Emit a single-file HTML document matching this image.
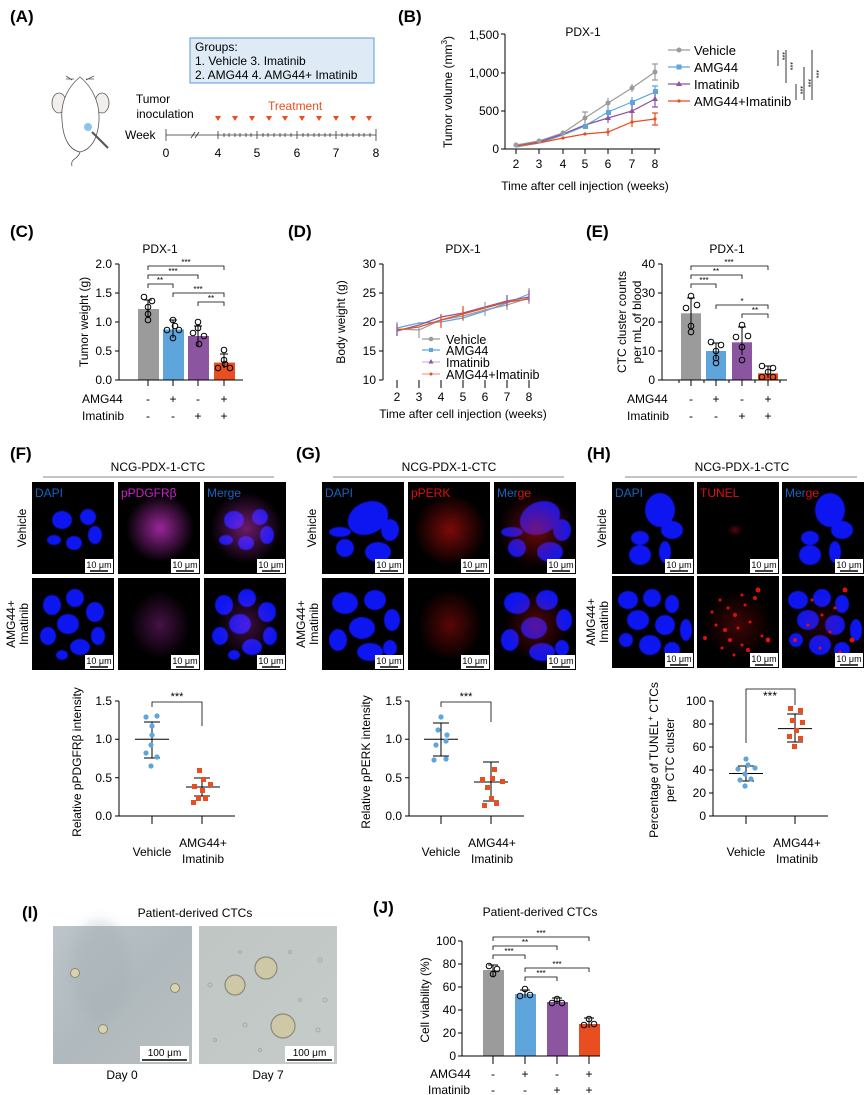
<!DOCTYPE html>
<html><head><meta charset="utf-8"><style>
html,body{margin:0;padding:0;background:#fff;}
svg{display:block;font-family:"Liberation Sans",Arial,sans-serif;}
</style></head><body>
<svg width="866" height="1095" viewBox="0 0 866 1095" xmlns="http://www.w3.org/2000/svg">
<defs>
<filter id="bl" x="-20%" y="-20%" width="140%" height="140%"><feGaussianBlur stdDeviation="0.6"/></filter>
<filter id="bl3" x="-30%" y="-30%" width="160%" height="160%"><feGaussianBlur stdDeviation="6"/></filter>
<radialGradient id="mag" cx="50%" cy="50%" r="50%"><stop offset="0" stop-color="#c030c0" stop-opacity="0.8"/><stop offset="1" stop-color="#c030c0" stop-opacity="0"/></radialGradient>
<radialGradient id="red" cx="50%" cy="50%" r="50%"><stop offset="0" stop-color="#d01010" stop-opacity="0.85"/><stop offset="1" stop-color="#d01010" stop-opacity="0"/></radialGradient>
<linearGradient id="bf0" x1="0" y1="0" x2="1" y2="1"><stop offset="0" stop-color="#bcc5c9"/><stop offset="0.5" stop-color="#b0b9bd"/><stop offset="1" stop-color="#b8bfc1"/></linearGradient>
<linearGradient id="bf7" x1="0" y1="0" x2="1" y2="1"><stop offset="0" stop-color="#bfc6c4"/><stop offset="1" stop-color="#c5cbc8"/></linearGradient>
</defs>
<g fill="#000" font-size="13">

<!-- ===== A ===== -->
<text x="10" y="22" font-size="17" font-weight="bold">(A)</text>
<rect x="190" y="38" width="184" height="45" fill="#deebf6" stroke="#5b9bd5" stroke-width="1"/>
<text x="195" y="51" font-size="12">Groups:</text>
<text x="195" y="65" font-size="12">1. Vehicle  3. Imatinib</text>
<text x="195" y="79" font-size="12">2. AMG44  4. AMG44+ Imatinib</text>
<g fill="none" stroke="#555" stroke-width="0.8">
<ellipse cx="59" cy="103" rx="7" ry="10" fill="#f3eeee"/>
<ellipse cx="102" cy="103" rx="7" ry="10" fill="#f3eeee"/>
<path d="M80 77 C70 85 60 100 62 120 C63 140 70 150 80 152 C90 150 98 140 99 120 C100 100 90 85 80 77 Z" fill="#fff"/>
<path d="M80 152 C78 160 70 158 72 166" />
<path d="M72 80 L66 76 M74 79 L66 79 M86 80 L94 76 M86 79 L94 79"/>
</g>
<circle cx="88" cy="127" r="4" fill="#8ec3ea"/>
<line x1="92" y1="132" x2="108" y2="148" stroke="#555" stroke-width="2"/>
<text x="153" y="103" font-size="12" text-anchor="middle">Tumor</text>
<text x="165" y="118" font-size="12" text-anchor="middle">inoculation</text>
<text x="268" y="110" font-size="12" fill="#e84e1f">Treatment</text>
<text x="125" y="139" font-size="12">Week</text>
<g stroke="#333" stroke-width="0.8">
<line x1="166" y1="135" x2="376" y2="135"/>
<line x1="166" y1="129" x2="166" y2="141"/><line x1="376" y1="129" x2="376" y2="141"/>
<line x1="191" y1="138" x2="195" y2="132"/><line x1="195" y1="138" x2="199" y2="132"/>
<line x1="218" y1="131" x2="218" y2="139"/><line x1="257" y1="131" x2="257" y2="139"/><line x1="297" y1="131" x2="297" y2="139"/><line x1="336" y1="131" x2="336" y2="139"/>
<path d="M224 133v4M229 133v4M235 133v4M240 133v4M246 133v4M251 133v4M263 133v4M268 133v4M274 133v4M280 133v4M285 133v4M291 133v4M303 133v4M308 133v4M314 133v4M319 133v4M325 133v4M330 133v4M342 133v4M347 133v4M353 133v4M359 133v4M364 133v4M370 133v4"/>
</g>
<g fill="#e84e1f">
<path d="M215 116h6l-3 5z"/><path d="M232 116h6l-3 5z"/><path d="M249 116h6l-3 5z"/><path d="M266 116h6l-3 5z"/><path d="M282 116h6l-3 5z"/><path d="M299 116h6l-3 5z"/><path d="M316 116h6l-3 5z"/><path d="M333 116h6l-3 5z"/><path d="M350 116h6l-3 5z"/><path d="M366 116h6l-3 5z"/>
</g>
<g font-size="12" text-anchor="middle"><text x="166" y="157">0</text><text x="218" y="157">4</text><text x="257" y="157">5</text><text x="297" y="157">6</text><text x="336" y="157">7</text><text x="376" y="157">8</text></g>

<!-- ===== B ===== -->
<text x="398" y="22" font-size="17" font-weight="bold">(B)</text>
<text x="583" y="36" font-size="12" text-anchor="middle">PDX-1</text>
<g stroke="#000" stroke-width="1" fill="none">
<path d="M505 34V149H660"/>
<path d="M501 34h4M501 73h4M501 111h4M501 149h4"/>
<path d="M516 149v5M539 149v5M563 149v5M585 149v5M608 149v5M632 149v5M655 149v5"/>
</g>
<g font-size="12" text-anchor="end"><text x="499" y="39">1,500</text><text x="499" y="77">1,000</text><text x="499" y="115">500</text><text x="499" y="153">0</text></g>
<g font-size="12" text-anchor="middle"><text x="516" y="168">2</text><text x="539" y="168">3</text><text x="563" y="168">4</text><text x="585" y="168">5</text><text x="608" y="168">6</text><text x="632" y="168">7</text><text x="655" y="168">8</text></g>
<text x="585" y="190" font-size="12" text-anchor="middle">Time after cell injection (weeks)</text>
<text transform="translate(452,92) rotate(-90)" font-size="12" text-anchor="middle">Tumor volume (mm<tspan font-size="8" dy="-5">3</tspan><tspan dy="5">)</tspan></text>
<g fill="none" stroke-width="1.2">
<polyline stroke="#9b9b9b" points="516,145 539,141 563,133 585,118 608,103 632,88 655,72"/>
<polyline stroke="#5ea5dc" points="516,147 539,143 563,135 585,126 608,112 632,102 655,92"/>
<polyline stroke="#8b55a0" points="516,146 539,142 563,134 585,125 608,118 632,111 655,99"/>
<polyline stroke="#e84e1f" points="516,146 539,143 563,138 585,134 608,132 632,122 655,119"/>
<path stroke="#9b9b9b" d="M585 112v12M608 98v9M632 84v8M655 64v16M652 64h6M652 80h6M582 112h6"/>
<path stroke="#5ea5dc" d="M608 107v10M632 97v10M655 86v12M652 86h6"/>
<path stroke="#8b55a0" d="M608 113v10M632 105v12M655 92v15M652 107h6"/>
<path stroke="#e84e1f" d="M608 128v8M632 117v10M655 113v12M652 113h6M652 125h6"/>
</g>
<g fill="#9b9b9b"><circle cx="516" cy="145" r="2.5"/><circle cx="539" cy="141" r="2.5"/><circle cx="563" cy="133" r="2.5"/><circle cx="585" cy="118" r="2.5"/><circle cx="608" cy="103" r="2.5"/><circle cx="632" cy="88" r="2.5"/><circle cx="655" cy="72" r="2.5"/></g>
<g fill="#5ea5dc"><rect x="583" y="124" width="5" height="5"/><rect x="606" y="110" width="5" height="5"/><rect x="630" y="100" width="5" height="5"/><rect x="653" y="89" width="5" height="5"/></g>
<g fill="#8b55a0"><path d="M608 115l3 5h-6z"/><path d="M632 108l3 5h-6z"/><path d="M655 96l3 5h-6z"/></g>
<g fill="#e84e1f"><circle cx="563" cy="138" r="1.6"/><circle cx="585" cy="134" r="1.6"/><circle cx="608" cy="132" r="1.6"/><circle cx="632" cy="122" r="1.6"/><circle cx="655" cy="119" r="1.6"/></g>
<g stroke-width="1.2"><line x1="668" y1="50" x2="690" y2="50" stroke="#9b9b9b"/><line x1="668" y1="67" x2="690" y2="67" stroke="#5ea5dc"/><line x1="668" y1="84" x2="690" y2="84" stroke="#8b55a0"/><line x1="668" y1="101" x2="690" y2="101" stroke="#e84e1f"/></g>
<circle cx="679" cy="50" r="2.5" fill="#9b9b9b"/><rect x="676.5" y="64.5" width="5" height="5" fill="#5ea5dc"/><path d="M679 81l3 5h-6z" fill="#8b55a0"/><circle cx="679" cy="101" r="1.6" fill="#e84e1f"/>
<g font-size="13"><text x="694" y="55">Vehicle</text><text x="694" y="72">AMG44</text><text x="694" y="89">Imatinib</text><text x="694" y="106">AMG44+Imatinib</text></g>
<g stroke="#000" stroke-width="0.8"><line x1="778" y1="50" x2="778" y2="66"/><line x1="786" y1="50" x2="786" y2="83"/><line x1="796" y1="84" x2="796" y2="100"/><line x1="804" y1="67" x2="804" y2="100"/><line x1="812" y1="50" x2="812" y2="100"/></g>
<g font-size="7"><text transform="translate(780,52) rotate(90)">***</text><text transform="translate(788,62) rotate(90)">***</text><text transform="translate(798,86) rotate(90)">***</text><text transform="translate(806,79) rotate(90)">***</text><text transform="translate(814,70) rotate(90)">***</text></g>

<!-- ===== C ===== -->
<text x="10" y="237" font-size="17" font-weight="bold">(C)</text>
<text x="160" y="253" font-size="12" text-anchor="middle">PDX-1</text>
<rect x="138" y="309" width="21" height="71" fill="#9b9b9b"/>
<rect x="163" y="329.5" width="21" height="50.5" fill="#5ea5dc"/>
<rect x="188" y="336" width="21" height="44" fill="#8b55a0"/>
<rect x="214" y="362.6" width="21" height="17.4" fill="#e84e1f"/>
<g stroke="#000" stroke-width="1" fill="none">
<path d="M119 264V380H243"/>
<path d="M115 264h4M115 293h4M115 322h4M115 351h4M115 380h4"/>
<path d="M148 380v6M173 380v6M198 380v6M224 380v6"/>
<path d="M148 300v18M144 300h8M173 320v18M169 320h8M198 326v20M194 326h8M224 354v14M220 354h8"/>
<circle cx="144" cy="297" r="2.8"/><circle cx="152" cy="301" r="2.8"/><circle cx="148" cy="307" r="2.8"/><circle cx="148" cy="314" r="2.8"/><circle cx="148" cy="320" r="2.8"/>
<circle cx="173" cy="320" r="2.8"/><circle cx="167" cy="330" r="2.8"/><circle cx="179" cy="330" r="2.8"/><circle cx="175" cy="326" r="2.8"/><circle cx="173" cy="338" r="2.8"/>
<circle cx="198" cy="322" r="2.8"/><circle cx="193" cy="333" r="2.8"/><circle cx="204" cy="336" r="2.8"/><circle cx="198" cy="328" r="2.8"/><circle cx="199" cy="344" r="2.8"/>
<circle cx="224" cy="350" r="2.8"/><circle cx="218" cy="368" r="2.8"/><circle cx="230" cy="368" r="2.8"/><circle cx="224" cy="360" r="2.8"/><circle cx="225" cy="364" r="2.8"/>
<path d="M148 270v-4H224v4M148 279v-4H198v4M148 288v-4H173v4M173 297v-4H224v4M198 306v-4H224v4" stroke-width="0.8"/>
</g>
<g font-size="8" text-anchor="middle"><text x="186" y="265">***</text><text x="173" y="274">***</text><text x="160" y="283">**</text><text x="198" y="292">***</text><text x="211" y="301">**</text></g>
<g font-size="12" text-anchor="end"><text x="112" y="268">2.0</text><text x="112" y="297">1.5</text><text x="112" y="326">1.0</text><text x="112" y="355">0.5</text><text x="112" y="384">0.0</text></g>
<text transform="translate(88,322) rotate(-90)" font-size="12" text-anchor="middle">Tumor weight (g)</text>
<g font-size="12"><text x="82" y="403">AMG44</text><text x="82" y="420">Imatinib</text></g>
<g font-size="12" text-anchor="middle"><text x="148" y="403">-</text><text x="173" y="403">+</text><text x="198" y="403">-</text><text x="224" y="403">+</text><text x="148" y="420">-</text><text x="173" y="420">-</text><text x="198" y="420">+</text><text x="224" y="420">+</text></g>

<!-- ===== D ===== -->
<text x="288" y="237" font-size="17" font-weight="bold">(D)</text>
<text x="463" y="253" font-size="12" text-anchor="middle">PDX-1</text>
<g stroke="#000" stroke-width="1" fill="none">
<path d="M383 264V380"/>
<path d="M379 264h4M379 293h4M379 322h4M379 351h4M379 380h4"/>
<path d="M397 380v8M419 380v8M441 380v8M463 380v8M485 380v8M507 380v8M529 380v8"/>
</g>
<g font-size="12" text-anchor="end"><text x="376" y="268">30</text><text x="376" y="297">25</text><text x="376" y="326">20</text><text x="376" y="355">15</text><text x="376" y="384">10</text></g>
<g font-size="12" text-anchor="middle"><text x="397" y="401">2</text><text x="419" y="401">3</text><text x="441" y="401">4</text><text x="463" y="401">5</text><text x="485" y="401">6</text><text x="507" y="401">7</text><text x="529" y="401">8</text></g>
<text x="463" y="418" font-size="12" text-anchor="middle">Time after cell injection (weeks)</text>
<text transform="translate(345,322) rotate(-90)" font-size="12" text-anchor="middle">Body weight (g)</text>
<g fill="none" stroke-width="1.2">
<polyline stroke="#9b9b9b" points="397,329 419,330 441,320 463,316 485,310 507,305 529,298"/>
<polyline stroke="#5ea5dc" points="397,328 419,323 441,322 463,318 485,311 507,303 529,294"/>
<polyline stroke="#8b55a0" points="397,331 419,325 441,317 463,313 485,307 507,301 529,297"/>
<polyline stroke="#e84e1f" points="397,330 419,327 441,320 463,314 485,308 507,302 529,299"/>
<path stroke="#9b9b9b" d="M397 322v14M419 322v16M441 314v12M463 309v12M485 302v14M507 298v12M529 288v16"/>
<path stroke="#8b55a0" d="M397 324v12M507 295v12M529 290v12"/>
<path stroke="#e84e1f" d="M441 314v14M463 306v14"/>
</g>
<g stroke-width="1.2"><line x1="422" y1="339" x2="440" y2="339" stroke="#9b9b9b"/><line x1="422" y1="350" x2="440" y2="350" stroke="#5ea5dc"/><line x1="422" y1="362" x2="440" y2="362" stroke="#d7b6e0"/><line x1="422" y1="374" x2="440" y2="374" stroke="#f2a486"/></g>
<circle cx="431" cy="339" r="2.3" fill="#9b9b9b"/><rect x="429" y="348" width="4" height="4" fill="#5ea5dc"/><path d="M431 359l2.5 4.5h-5z" fill="#8b55a0"/><circle cx="431" cy="374" r="1.5" fill="#e84e1f"/>
<g font-size="12.5"><text x="446" y="344">Vehicle</text><text x="446" y="355">AMG44</text><text x="446" y="367">Imatinib</text><text x="446" y="379">AMG44+Imatinib</text></g>

<!-- ===== E ===== -->
<text x="586" y="237" font-size="17" font-weight="bold">(E)</text>
<text x="727" y="253" font-size="12" text-anchor="middle">PDX-1</text>
<rect x="681" y="313.3" width="20" height="66.7" fill="#9b9b9b"/>
<rect x="706" y="351" width="20" height="29" fill="#5ea5dc"/>
<rect x="732" y="342.3" width="20" height="37.7" fill="#8b55a0"/>
<rect x="758" y="373.3" width="20" height="6.7" fill="#e84e1f"/>
<g stroke="#000" stroke-width="1" fill="none">
<path d="M662 264V380H787"/>
<path d="M658 264h4M658 293h4M658 322h4M658 351h4M658 380h4"/>
<path d="M691 380v6M716 380v6M742 380v6M768 380v6M679 380v3M704 380v3M729 380v3M755 380v3M780 380v3"/>
<path d="M691 298v30M687 298h8M716 343v16M712 343h8M742 327v28M738 327h8M768 366v12M764 366h8"/>
<circle cx="691" cy="296" r="2.8"/><circle cx="686" cy="308" r="2.8"/><circle cx="697" cy="305" r="2.8"/><circle cx="691" cy="326" r="2.8"/><circle cx="691" cy="332" r="2.8"/>
<circle cx="711" cy="342" r="2.8"/><circle cx="721" cy="345" r="2.8"/><circle cx="716" cy="351" r="2.8"/><circle cx="716" cy="358" r="2.8"/><circle cx="716" cy="363" r="2.8"/>
<circle cx="742" cy="325" r="2.8"/><circle cx="736" cy="337" r="2.8"/><circle cx="748" cy="336" r="2.8"/><circle cx="742" cy="347" r="2.8"/><circle cx="742" cy="360" r="2.8"/>
<circle cx="762" cy="366" r="2.8"/><circle cx="773" cy="368" r="2.8"/><circle cx="762" cy="377" r="2.8"/><circle cx="773" cy="377" r="2.8"/><circle cx="768" cy="372" r="2.8"/>
<path d="M691 270v-4H768v4M691 279v-4H742v4M691 288v-4H716v4M716 309v-4H768v4M742 318v-4H768v4" stroke-width="0.8"/>
</g>
<g font-size="8" text-anchor="middle"><text x="729" y="265">***</text><text x="716" y="274">**</text><text x="704" y="283">***</text><text x="742" y="304">*</text><text x="755" y="313">**</text></g>
<g font-size="12" text-anchor="end"><text x="655" y="268">40</text><text x="655" y="297">30</text><text x="655" y="326">20</text><text x="655" y="355">10</text><text x="655" y="384">0</text></g>
<text transform="translate(626,322) rotate(-90)" font-size="12" text-anchor="middle">CTC cluster counts</text>
<text transform="translate(641,322) rotate(-90)" font-size="12" text-anchor="middle">per mL of blood</text>
<g font-size="12"><text x="627" y="403">AMG44</text><text x="627" y="420">Imatinib</text></g>
<g font-size="12" text-anchor="middle"><text x="691" y="403">-</text><text x="716" y="403">+</text><text x="742" y="403">-</text><text x="768" y="403">+</text><text x="691" y="420">-</text><text x="716" y="420">-</text><text x="742" y="420">+</text><text x="768" y="420">+</text></g>

<!-- ===== F/G/H titles ===== -->
<text x="10" y="459" font-size="17" font-weight="bold">(F)</text>
<text x="296" y="459" font-size="17" font-weight="bold">(G)</text>
<text x="587" y="459" font-size="17" font-weight="bold">(H)</text>
<g font-size="12" text-anchor="middle"><text x="158" y="471">NCG-PDX-1-CTC</text><text x="449" y="471">NCG-PDX-1-CTC</text><text x="742" y="471">NCG-PDX-1-CTC</text></g>
<g stroke="#888" stroke-width="1"><line x1="43" y1="477" x2="274" y2="477"/><line x1="333" y1="477" x2="564" y2="477"/><line x1="625" y1="477" x2="857" y2="477"/></g>
<g font-size="12" text-anchor="middle">
<text transform="translate(26,528) rotate(-90)">Vehicle</text>
<text transform="translate(15,624) rotate(-90)">AMG44+</text><text transform="translate(28,624) rotate(-90)">Imatinib</text>
<text transform="translate(316,528) rotate(-90)">Vehicle</text>
<text transform="translate(305,624) rotate(-90)">AMG44+</text><text transform="translate(318,624) rotate(-90)">Imatinib</text>
<text transform="translate(606,528) rotate(-90)">Vehicle</text>
<text transform="translate(595,622) rotate(-90)">AMG44+</text><text transform="translate(608,622) rotate(-90)">Imatinib</text>
</g>

<g fill="#000">
<rect x="32" y="482" width="82" height="92"/><rect x="118" y="482" width="82" height="92"/><rect x="204" y="482" width="82" height="92"/>
<rect x="32" y="578" width="82" height="92"/><rect x="118" y="578" width="82" height="92"/><rect x="204" y="578" width="82" height="92"/>
<rect x="322" y="482" width="82" height="92"/><rect x="408" y="482" width="82" height="92"/><rect x="494" y="482" width="82" height="92"/>
<rect x="322" y="578" width="82" height="92"/><rect x="408" y="578" width="82" height="92"/><rect x="494" y="578" width="82" height="92"/>
<rect x="612" y="482" width="82" height="92"/><rect x="697" y="482" width="82" height="92"/><rect x="782" y="482" width="82" height="92"/>
<rect x="612" y="576" width="82" height="92"/><rect x="697" y="576" width="82" height="92"/><rect x="782" y="576" width="82" height="92"/>
</g>
<g id="nF1" fill="#0a14f0" filter="url(#bl)"><ellipse cx="62" cy="520" rx="10" ry="9"/><ellipse cx="88" cy="517" rx="8" ry="8"/><ellipse cx="95" cy="535" rx="7" ry="9"/><ellipse cx="74" cy="543" rx="8" ry="7"/><ellipse cx="54" cy="540" rx="7" ry="5"/></g>
<use href="#nF1" x="172"/>
<ellipse cx="160" cy="528" rx="34" ry="34" fill="url(#mag)"/>
<ellipse cx="246" cy="528" rx="36" ry="36" fill="url(#mag)" opacity="0.7"/>
<g id="nF2" fill="#0a14f0" filter="url(#bl)"><ellipse cx="52" cy="605" rx="9" ry="10"/><ellipse cx="75" cy="598" rx="9" ry="9"/><ellipse cx="95" cy="612" rx="9" ry="10"/><ellipse cx="68" cy="624" rx="11" ry="10"/><ellipse cx="48" cy="636" rx="8" ry="9"/><ellipse cx="80" cy="647" rx="10" ry="8"/><ellipse cx="98" cy="636" rx="7" ry="9"/><ellipse cx="62" cy="655" rx="6" ry="5"/></g>
<use href="#nF2" x="172"/>
<ellipse cx="160" cy="625" rx="30" ry="34" fill="url(#mag)" opacity="0.45"/>
<ellipse cx="246" cy="625" rx="30" ry="34" fill="url(#mag)" opacity="0.4"/>

<g id="nG1" fill="#0a14f0" filter="url(#bl)"><ellipse cx="368" cy="518" rx="21" ry="16" transform="rotate(-25 368 518)"/><ellipse cx="390" cy="530" rx="9" ry="11"/><ellipse cx="340" cy="532" rx="11" ry="5"/><ellipse cx="345" cy="548" rx="9" ry="9"/><ellipse cx="378" cy="552" rx="13" ry="10"/></g>
<use href="#nG1" x="172"/>
<ellipse cx="450" cy="530" rx="36" ry="36" fill="url(#red)" opacity="0.7"/>
<ellipse cx="536" cy="530" rx="38" ry="38" fill="url(#red)" opacity="0.6"/>
<g id="nG2" fill="#0a14f0" filter="url(#bl)"><ellipse cx="345" cy="603" rx="13" ry="11"/><ellipse cx="375" cy="600" rx="11" ry="10"/><ellipse cx="392" cy="620" rx="8" ry="11"/><ellipse cx="362" cy="628" rx="13" ry="11"/><ellipse cx="338" cy="640" rx="9" ry="11"/><ellipse cx="370" cy="652" rx="13" ry="9"/><ellipse cx="390" cy="648" rx="7" ry="8"/></g>
<use href="#nG2" x="172"/>
<ellipse cx="450" cy="625" rx="32" ry="36" fill="url(#red)" opacity="0.5"/>
<ellipse cx="536" cy="625" rx="32" ry="36" fill="url(#red)" opacity="0.45"/>

<g id="nH1" fill="#0a14f0" filter="url(#bl)"><ellipse cx="660" cy="510" rx="15" ry="17"/><ellipse cx="672" cy="530" rx="11" ry="9"/><ellipse cx="640" cy="538" rx="9" ry="7"/><ellipse cx="640" cy="555" rx="11" ry="10"/><ellipse cx="665" cy="552" rx="6" ry="11"/></g>
<use href="#nH1" x="170"/>
<ellipse cx="735" cy="530" rx="8" ry="6" fill="url(#red)" opacity="0.5"/>
<g id="nH2" fill="#0a14f0" filter="url(#bl)"><ellipse cx="628" cy="600" rx="10" ry="9"/><ellipse cx="652" cy="598" rx="9" ry="9"/><ellipse cx="672" cy="604" rx="7" ry="9"/><ellipse cx="638" cy="620" rx="11" ry="10"/><ellipse cx="665" cy="625" rx="10" ry="10"/><ellipse cx="686" cy="630" rx="6" ry="11"/><ellipse cx="626" cy="640" rx="7" ry="7"/><ellipse cx="650" cy="645" rx="11" ry="10"/><ellipse cx="672" cy="650" rx="8" ry="8"/></g>
<use href="#nH2" x="170"/>
<g fill="#e01010">
<circle cx="720" cy="600" r="1.5"/><circle cx="728" cy="608" r="1.5"/><circle cx="735" cy="615" r="2"/><circle cx="745" cy="605" r="1.5"/><circle cx="755" cy="598" r="2"/><circle cx="758" cy="590" r="2.5"/><circle cx="716" cy="625" r="1.5"/><circle cx="725" cy="630" r="2"/><circle cx="738" cy="628" r="1.5"/><circle cx="750" cy="622" r="1.5"/><circle cx="730" cy="640" r="2"/><circle cx="742" cy="645" r="1.5"/><circle cx="722" cy="648" r="1.5"/><circle cx="705" cy="638" r="2"/><circle cx="762" cy="636" r="1.5"/><circle cx="768" cy="640" r="2.5"/><circle cx="734" cy="655" r="1.5"/><circle cx="748" cy="650" r="2"/><circle cx="712" cy="612" r="1.5"/><circle cx="742" cy="595" r="1.5"/>
<circle cx="812" cy="600" r="1.5"/><circle cx="822" cy="615" r="1.5"/><circle cx="835" cy="608" r="1.5"/><circle cx="845" cy="590" r="2.5"/><circle cx="808" cy="625" r="1.5"/><circle cx="830" cy="632" r="1.5"/><circle cx="852" cy="640" r="2.5"/><circle cx="820" cy="648" r="1.5"/><circle cx="840" cy="652" r="1.5"/><circle cx="795" cy="640" r="2"/>
</g>
<ellipse cx="738" cy="625" rx="34" ry="34" fill="url(#red)" opacity="0.35"/>
<ellipse cx="823" cy="625" rx="30" ry="30" fill="url(#red)" opacity="0.2"/>
<g font-size="12">
<text x="35" y="497" fill="#1565c0">DAPI</text><text x="121" y="497" fill="#d020d0">pPDGFRβ</text><text x="207" y="497" fill="#1565c0">Merge</text>
<text x="325" y="497" fill="#1565c0">DAPI</text><text x="411" y="497" fill="#e01010">pPERK</text><text x="497" y="497" fill="#1565c0">Mer<tspan fill="#e01010">ge</tspan></text>
<text x="615" y="497" fill="#1565c0">DAPI</text><text x="700" y="497" fill="#e01010">TUNEL</text><text x="785" y="497" fill="#1565c0">Mer<tspan fill="#e01010">ge</tspan></text>
</g>
<g id="sb"><rect x="85" y="559" width="28" height="14" fill="#fff"/><text x="99" y="568" font-size="9" text-anchor="middle">10 μm</text><line x1="90" y1="571" x2="108" y2="571" stroke="#000" stroke-width="1.5"/></g>
<use href="#sb" x="86"/><use href="#sb" x="172"/>
<use href="#sb" y="96"/><use href="#sb" x="86" y="96"/><use href="#sb" x="172" y="96"/>
<use href="#sb" x="290"/><use href="#sb" x="376"/><use href="#sb" x="462"/>
<use href="#sb" x="290" y="96"/><use href="#sb" x="376" y="96"/><use href="#sb" x="462" y="96"/>
<use href="#sb" x="580"/><use href="#sb" x="665"/><use href="#sb" x="750"/>
<use href="#sb" x="580" y="94"/><use href="#sb" x="665" y="94"/><use href="#sb" x="750" y="94"/>

<!-- F scatter -->
<g stroke="#000" stroke-width="1" fill="none">
<path d="M119 701V816H235"/><path d="M115 701h4M115 739.3h4M115 777.7h4M115 816h4"/>
<path d="M152 816v8M202 816v8"/>
<path d="M152 707v-5H202v24" stroke-width="0.8"/>
<path d="M135 739.3h34M144 722h16M144 758h16M152 722v36M186 787h34M194 778h16M194 796h16M202 778v18"/>
</g>
<g fill="#5ea5dc"><circle cx="146" cy="717" r="2.6"/><circle cx="157" cy="716" r="2.6"/><circle cx="152" cy="726" r="2.6"/><circle cx="152" cy="735" r="2.6"/><circle cx="151" cy="745" r="2.6"/><circle cx="146" cy="753" r="2.6"/><circle cx="157" cy="757" r="2.6"/><circle cx="151" cy="766" r="2.6"/></g>
<g fill="#e84e1f"><rect x="197" y="768" width="5" height="5"/><rect x="201" y="777" width="5" height="5"/><rect x="208" y="782" width="5" height="5"/><rect x="192" y="784" width="5" height="5"/><rect x="200" y="788" width="5" height="5"/><rect x="196" y="796" width="5" height="5"/><rect x="203" y="796" width="5" height="5"/><rect x="191" y="800" width="5" height="5"/></g>
<text x="177" y="700" font-size="11" text-anchor="middle">***</text>
<g font-size="12" text-anchor="end"><text x="112" y="705">1.5</text><text x="112" y="743">1.0</text><text x="112" y="782">0.5</text><text x="112" y="820">0.0</text></g>
<text transform="translate(81,762) rotate(-90)" font-size="12" text-anchor="middle">Relative pPDGFRβ intensity</text>
<g font-size="12" text-anchor="middle"><text x="152" y="856">Vehicle</text><text x="203" y="847">AMG44+</text><text x="203" y="863">Imatinib</text></g>

<!-- G scatter -->
<g stroke="#000" stroke-width="1" fill="none">
<path d="M409 701V816H524"/><path d="M405 701h4M405 739.3h4M405 777.7h4M405 816h4"/>
<path d="M441 816v8M491 816v8"/>
<path d="M441 707v-5H491v20" stroke-width="0.8"/>
<path d="M424 739.3h34M433 723h16M433 756h16M441 723v33M474 782h34M483 762h16M483 801h16M491 762v39"/>
</g>
<g fill="#5ea5dc"><circle cx="441" cy="717" r="2.6"/><circle cx="438" cy="730" r="2.6"/><circle cx="447" cy="735" r="2.6"/><circle cx="436" cy="745" r="2.6"/><circle cx="446" cy="741" r="2.6"/><circle cx="434" cy="760" r="2.6"/><circle cx="446" cy="759" r="2.6"/></g>
<g fill="#e84e1f"><rect x="492" y="767" width="5" height="5"/><rect x="480" y="777" width="5" height="5"/><rect x="490" y="776" width="5" height="5"/><rect x="500" y="779" width="5" height="5"/><rect x="485" y="785" width="5" height="5"/><rect x="489" y="796" width="5" height="5"/><rect x="482" y="803" width="5" height="5"/><rect x="494" y="801" width="5" height="5"/></g>
<text x="466" y="700" font-size="11" text-anchor="middle">***</text>
<g font-size="12" text-anchor="end"><text x="402" y="705">1.5</text><text x="402" y="743">1.0</text><text x="402" y="782">0.5</text><text x="402" y="820">0.0</text></g>
<text transform="translate(370,762) rotate(-90)" font-size="12" text-anchor="middle">Relative pPERK intensity</text>
<g font-size="12" text-anchor="middle"><text x="441" y="856">Vehicle</text><text x="492" y="847">AMG44+</text><text x="492" y="863">Imatinib</text></g>

<!-- H scatter -->
<g stroke="#000" stroke-width="1" fill="none">
<path d="M713 701V816H828"/><path d="M709 701h4M709 724h4M709 747h4M709 770h4M709 793h4M709 816h4"/>
<path d="M746 816v8M795 816v8"/>
<path d="M746 743V689H795v16" stroke-width="0.8"/>
<path d="M729 773.5h34M738 766h16M738 781h16M746 766v15M778 728.6h34M787 714h16M787 742h16M795 714v28"/>
</g>
<g fill="#5ea5dc"><circle cx="746" cy="759" r="2.6"/><circle cx="738" cy="769" r="2.6"/><circle cx="748" cy="765" r="2.6"/><circle cx="755" cy="768" r="2.6"/><circle cx="745" cy="774" r="2.6"/><circle cx="740" cy="780" r="2.6"/><circle cx="751" cy="779" r="2.6"/><circle cx="745" cy="786" r="2.6"/></g>
<g fill="#e84e1f"><rect x="788" y="706" width="5" height="5"/><rect x="798" y="708" width="5" height="5"/><rect x="790" y="718" width="5" height="5"/><rect x="800" y="720" width="5" height="5"/><rect x="794" y="728" width="5" height="5"/><rect x="787" y="734" width="5" height="5"/><rect x="798" y="736" width="5" height="5"/><rect x="792" y="744" width="5" height="5"/></g>
<text x="770" y="700" font-size="12" text-anchor="middle">***</text>
<g font-size="12" text-anchor="end"><text x="706" y="705">100</text><text x="706" y="728">80</text><text x="706" y="751">60</text><text x="706" y="774">40</text><text x="706" y="797">20</text><text x="706" y="820">0</text></g>
<text transform="translate(658,760) rotate(-90)" font-size="12" text-anchor="middle">Percentage of TUNEL<tspan font-size="8" dy="-5">+</tspan><tspan dy="5"> CTCs</tspan></text>
<text transform="translate(674,760) rotate(-90)" font-size="12" text-anchor="middle">per CTC cluster</text>
<g font-size="12" text-anchor="middle"><text x="746" y="856">Vehicle</text><text x="797" y="847">AMG44+</text><text x="797" y="863">Imatinib</text></g>

<!-- ===== I ===== -->
<text x="22" y="918" font-size="17" font-weight="bold">(I)</text>
<text x="195" y="917" font-size="12" text-anchor="middle">Patient-derived CTCs</text>
<rect x="53" y="926" width="139" height="138" fill="url(#bf0)"/>
<rect x="199" y="926" width="138" height="138" fill="url(#bf7)"/>
<ellipse cx="100" cy="970" rx="30" ry="50" fill="#a3acb1" opacity="0.35" filter="url(#bl3)"/>
<g fill="#d8d2ae" stroke="#8a8a70" stroke-width="1"><circle cx="75" cy="973" r="4.5"/><circle cx="175" cy="988" r="4.5"/><circle cx="103" cy="1029" r="4.5"/></g>
<g fill="#cfc8a6" stroke="#8a8a7a" stroke-width="1.2"><circle cx="266" cy="968" r="11"/><circle cx="235" cy="985" r="10"/><circle cx="283" cy="1026" r="12"/></g>
<g fill="none" stroke="#9aa3a3" stroke-width="0.8"><circle cx="210" cy="985" r="2"/><circle cx="240" cy="952" r="1.5"/><circle cx="290" cy="952" r="1.5"/><circle cx="320" cy="960" r="2"/><circle cx="325" cy="1000" r="2"/><circle cx="300" cy="1000" r="1.5"/><circle cx="245" cy="1025" r="2"/><circle cx="215" cy="1040" r="1.5"/><circle cx="318" cy="1030" r="2"/><circle cx="260" cy="1050" r="1.5"/></g>
<g id="sbI"><rect x="140" y="1046" width="49" height="16" fill="#fff"/><text x="164.5" y="1056" font-size="10" text-anchor="middle">100 μm</text><line x1="142" y1="1060" x2="187" y2="1060" stroke="#000" stroke-width="1.5"/></g>
<use href="#sbI" x="145"/>
<g font-size="12" text-anchor="middle"><text x="122" y="1079">Day 0</text><text x="268" y="1079">Day 7</text></g>

<!-- ===== J ===== -->
<text x="373" y="913" font-size="17" font-weight="bold">(J)</text>
<text x="540" y="916" font-size="12" text-anchor="middle">Patient-derived CTCs</text>
<rect x="483" y="970" width="21" height="86" fill="#9b9b9b"/>
<rect x="515" y="994" width="21" height="62" fill="#5ea5dc"/>
<rect x="547" y="1002" width="21" height="54" fill="#8b55a0"/>
<rect x="579" y="1024" width="21" height="32" fill="#e84e1f"/>
<g stroke="#000" stroke-width="1" fill="none">
<path d="M462 941V1056H600"/>
<path d="M458 941h4M458 964h4M458 987h4M458 1010h4M458 1033h4M458 1056h4"/>
<path d="M493 1056v8M525 1056v8M557 1056v8M589 1056v8"/>
<path d="M493 965v12M488 965h10M525 990v8M520 990h10M557 998v6M552 998h10M589 1018v10M584 1018h10"/>
<circle cx="489" cy="966" r="2.8"/><circle cx="497" cy="969" r="2.8"/><circle cx="493" cy="974" r="2.8"/>
<circle cx="525" cy="989" r="2.8"/><circle cx="520" cy="996" r="2.8"/><circle cx="530" cy="995" r="2.8"/>
<circle cx="557" cy="999" r="2.8"/><circle cx="552" cy="1003" r="2.8"/><circle cx="562" cy="1003" r="2.8"/>
<circle cx="589" cy="1019" r="2.8"/><circle cx="584" cy="1025" r="2.8"/><circle cx="594" cy="1024" r="2.8"/>
<path d="M493 941v-4H589v4M493 950v-4H557v4M493 959v-4H525v4M525 972v-4H589v4M525 981v-4H557v4" stroke-width="0.8"/>
</g>
<g font-size="8" text-anchor="middle"><text x="541" y="936">***</text><text x="525" y="945">**</text><text x="509" y="954">***</text><text x="557" y="967">***</text><text x="541" y="976">***</text></g>
<g font-size="12" text-anchor="end"><text x="456" y="945">100</text><text x="456" y="968">80</text><text x="456" y="991">60</text><text x="456" y="1014">40</text><text x="456" y="1037">20</text><text x="456" y="1060">0</text></g>
<text transform="translate(429,1000) rotate(-90)" font-size="12" text-anchor="middle">Cell viability (%)</text>
<g font-size="12"><text x="430" y="1078">AMG44</text><text x="428" y="1094">Imatinib</text></g>
<g font-size="12" text-anchor="middle"><text x="493" y="1078">-</text><text x="525" y="1078">+</text><text x="557" y="1078">-</text><text x="589" y="1078">+</text><text x="493" y="1094">-</text><text x="525" y="1094">-</text><text x="557" y="1094">+</text><text x="589" y="1094">+</text></g>
</g>
</svg>
</body></html>
